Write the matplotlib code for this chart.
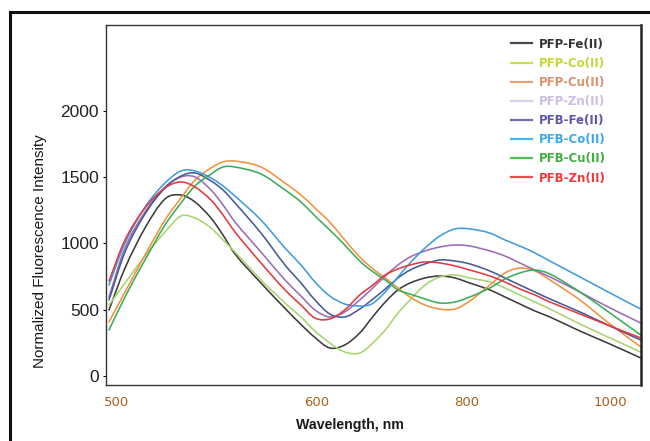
import numpy as np
import matplotlib
matplotlib.use("Agg")
import matplotlib.pyplot as plt
from matplotlib.lines import Line2D
from matplotlib.path import Path
from matplotlib.patches import PathPatch

# ---------------- data ----------------
wavelength = [496, 504, 514, 524, 532, 539, 547, 553, 559, 572, 584, 592, 599,
              617, 637, 657, 673, 691, 708, 724, 744, 764, 784, 804, 832, 853,
              874, 895, 916, 958, 1000, 1043]

pfp_fe = [498, 814, 1116, 1335, 1365, 1312, 1191, 1063, 920, 701, 510, 388, 290,
          211, 234, 324, 437, 558, 649, 701, 739, 754, 739, 701, 649, 596,
          543, 490, 445, 339, 241, 136]
pfp_co = [535, 701, 905, 1086, 1207, 1191, 1116, 1026, 935, 724, 550, 445, 339,
          249, 181, 173, 241, 347, 475, 573, 686, 747, 762, 739, 709, 664,
          611, 558, 505, 392, 287, 181]
pfp_cu = [407, 633, 912, 1176, 1342, 1478, 1569, 1614, 1621, 1576, 1455, 1365, 1267,
          1161, 1026, 897, 814, 739, 664, 596, 535, 505, 505, 566, 686, 777,
          814, 792, 724, 573, 392, 219]
pfp_zn = [596, 965, 1237, 1425, 1501, 1501, 1403, 1290, 1161, 935, 724, 603, 498,
          445, 483, 573, 656, 754, 837, 897, 943, 973, 988, 980, 943, 905,
          852, 799, 747, 633, 513, 400]
pfb_fe = [573, 935, 1222, 1418, 1508, 1531, 1471, 1403, 1305, 1078, 837, 701, 573,
          468, 445, 505, 573, 656, 739, 799, 845, 875, 867, 845, 792, 739,
          686, 633, 581, 483, 377, 271]
pfb_co = [686, 1003, 1274, 1455, 1546, 1546, 1493, 1433, 1357, 1176, 965, 837, 709,
          603, 543, 528, 543, 633, 747, 852, 965, 1056, 1109, 1109, 1078, 1026,
          980, 928, 867, 747, 626, 505]
pfb_cu = [347, 596, 875, 1139, 1305, 1433, 1523, 1576, 1576, 1523, 1403, 1312, 1207,
          1101, 988, 867, 792, 724, 649, 618, 581, 550, 558, 596, 664, 731,
          777, 799, 769, 633, 475, 309]
pfb_zn = [716, 1026, 1267, 1418, 1463, 1425, 1327, 1214, 1086, 852, 649, 535, 437,
          430, 498, 611, 679, 762, 807, 837, 860, 852, 830, 799, 754, 709,
          656, 611, 558, 468, 377, 287]

labels = ["PFP-Fe(II)", "PFP-Co(II)", "PFP-Cu(II)", "PFP-Zn(II)",
          "PFB-Fe(II)", "PFB-Co(II)", "PFB-Cu(II)", "PFB-Zn(II)"]
series = [pfp_fe, pfp_co, pfp_cu, pfp_zn, pfb_fe, pfb_co, pfb_cu, pfb_zn]
line_colors = ["#3c3c3c", "#a9d46f", "#f4913c", "#9b6cb8",
               "#465a96", "#3f9ddc", "#3cab5c", "#e23a3f"]
legend_line_colors = ["#4a4a4a", "#cde245", "#e5a07c", "#d9d0ea",
                      "#6f6fb8", "#42b8ef", "#4fc052", "#f04c4c"]
legend_text_colors = ["#333333", "#c4d83a", "#d9916c", "#cbbde6",
                      "#5e55b0", "#3aa9ec", "#3eae3e", "#ee3a3a"]

x_ticks = [500, 600, 800, 1000]
y_ticks = [0, 500, 1000, 1500, 2000]

# non-uniform wavelength axis (as in the original figure)
knot_wl = [0, 500, 600, 800, 1000, 2000]
knot_pos = [-883, 117, 317, 467, 610, 1325]

def fwd(v):
    return np.interp(v, knot_wl, knot_pos)

def inv(p):
    return np.interp(p, knot_pos, knot_wl)

def smoothed_path(x, y):
    """Smoothed line (cubic Hermite Bezier segments) through the data points."""
    X = fwd(np.asarray(x, float))
    Y = np.asarray(y, float)
    n = len(X)
    m = np.empty(n)
    m[1:-1] = (Y[2:] - Y[:-2]) / (X[2:] - X[:-2])
    m[0] = (Y[1] - Y[0]) / (X[1] - X[0])
    m[-1] = (Y[-1] - Y[-2]) / (X[-1] - X[-2])
    verts = [(X[0], Y[0])]
    codes = [Path.MOVETO]
    for i in range(n - 1):
        dx = X[i + 1] - X[i]
        verts += [(X[i] + dx / 3, Y[i] + m[i] * dx / 3),
                  (X[i + 1] - dx / 3, Y[i + 1] - m[i + 1] * dx / 3),
                  (X[i + 1], Y[i + 1])]
        codes += [Path.CURVE4] * 3
    verts = np.array(verts)
    verts[:, 0] = inv(verts[:, 0])
    return Path(verts, codes)

# ---------------- figure ----------------
fig = plt.figure(figsize=(6.5, 4.41), dpi=100)
ax = fig.add_axes([106/650, 1-385/441, 535/650, 360/441])

ax.set_xscale("function", functions=(fwd, inv))
for ys, c in zip(series, line_colors):
    ax.add_patch(PathPatch(smoothed_path(wavelength, ys), fill=False,
                           edgecolor=c, lw=1.15, capstyle="round", joinstyle="round"))

ax.set_xlim(494.5, 1043.4)
ax.set_ylim(-68, 2647)
ax.set_xticks(x_ticks)
ax.set_xticklabels([str(t) for t in x_ticks])
ax.set_yticks(y_ticks)
ax.minorticks_off()
ax.tick_params(axis="x", length=0, pad=8, labelsize=9.5, labelcolor="#a8621f")
ax.tick_params(axis="y", length=2, width=0.8, pad=3, labelsize=12.5, labelcolor="#222222")
for lab in ax.get_yticklabels():
    lab.set_fontfamily("Liberation Sans")

for side in ["left", "bottom", "top"]:
    ax.spines[side].set_color("#333333")
    ax.spines[side].set_linewidth(1.0)
ax.spines["right"].set_color("#222222")
ax.spines["right"].set_linewidth(1.8)

handles = [Line2D([], [], color=c, lw=1.6) for c in legend_line_colors]
leg = ax.legend(handles, labels, loc="upper left", bbox_to_anchor=(0.757, 0.965),
                frameon=False, borderpad=0, borderaxespad=0,
                handlelength=1.8, handletextpad=0.6, labelspacing=0.52,
                prop={"family": "DejaVu Sans", "weight": "bold", "size": 8.5})
for t, c in zip(leg.get_texts(), legend_text_colors):
    t.set_color(c)

fig.text(40/650, 1-251/441, "Normalized Fluorescence Intensity", rotation=90,
         ha="center", va="center", fontsize=11, family="Liberation Sans",
         color="#1a1a1a")
fig.text(350/650, 1-425/441, "Wavelength, nm", ha="center", va="center",
         fontsize=10.2, family="Liberation Sans", weight="bold", color="#1a1a1a")

# outer frame of the original figure
fig.add_artist(Line2D([10/650, 10/650], [0, 1-12/441], transform=fig.transFigure,
                      color="#111111", lw=2.2))
fig.add_artist(Line2D([10/650, 1], [1-12/441, 1-12/441], transform=fig.transFigure,
                      color="#111111", lw=2.2))

fig.savefig("out.png", dpi=100)
